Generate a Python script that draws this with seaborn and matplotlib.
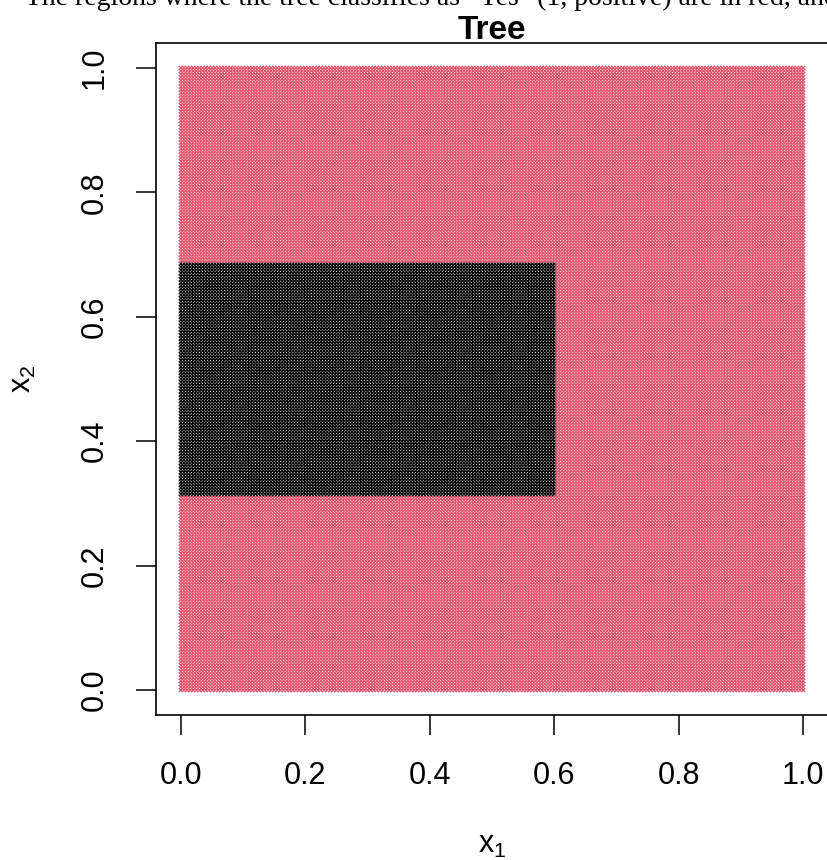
import numpy as np
import pandas as pd
import matplotlib
matplotlib.use('Agg')
import matplotlib.pyplot as plt
import seaborn as sns

# Prediction grid and tree splits
grid_step = 0.005
x1_split = 0.605          # black only left of this
x2_low, x2_high = 0.31, 0.69
class_colors = {'No': 'black', 'Yes': '#DF536B'}
ticks = [0.0, 0.2, 0.4, 0.6, 0.8, 1.0]
tick_labels = ['0.0', '0.2', '0.4', '0.6', '0.8', '1.0']

g = np.arange(0, 1 + grid_step / 2, grid_step)
gx, gy = np.meshgrid(g, g)
df = pd.DataFrame({'x1': gx.ravel(), 'x2': gy.ravel()})
inside = (df.x1 < x1_split) & (df.x2 > x2_low) & (df.x2 < x2_high)
df['pred'] = np.where(inside, 'No', 'Yes')

sns.set_style('white')
plt.rcParams['font.family'] = ['Liberation Sans', 'DejaVu Sans']
plt.rcParams['mathtext.default'] = 'regular'
plt.rcParams['text.color'] = 'black'
plt.rcParams['axes.labelcolor'] = 'black'

fig = plt.figure(figsize=(8.27, 8.6), dpi=100)
ax = fig.add_axes([0.1886, 0.1686, 0.8126, 0.7814])

sns.scatterplot(data=df, x='x1', y='x2', hue='pred', palette=class_colors,
                marker='x', s=8, linewidth=0.85, legend=False, ax=ax)

ax.set_xlim(-0.04, 1.04)
ax.set_ylim(-0.04, 1.04)
ax.set_xticks(ticks)
ax.set_xticklabels(tick_labels)
ax.set_yticks(ticks)
ax.set_yticklabels(tick_labels, rotation=90, va='center')
ax.tick_params(direction='out', length=14.4, width=1.1, labelsize=22,
               pad=19, colors='black', bottom=True, left=True)
for sp in ax.spines.values():
    sp.set_linewidth(1.2)
    sp.set_color('black')

ax.set_xlabel('x$_1$', fontsize=22, labelpad=28)
ax.set_ylabel('x$_2$', fontsize=22, labelpad=30)
ax.set_title('Tree', fontsize=24, fontweight='bold', pad=3, color='black')

fig.text(25 / 827, 1 - 5 / 860,
         'The regions where the tree classifies as "Yes" (1, positive) are in red, and',
         family='Liberation Serif', fontsize=20, va='baseline', ha='left')

fig.savefig('out.png', dpi=100)
